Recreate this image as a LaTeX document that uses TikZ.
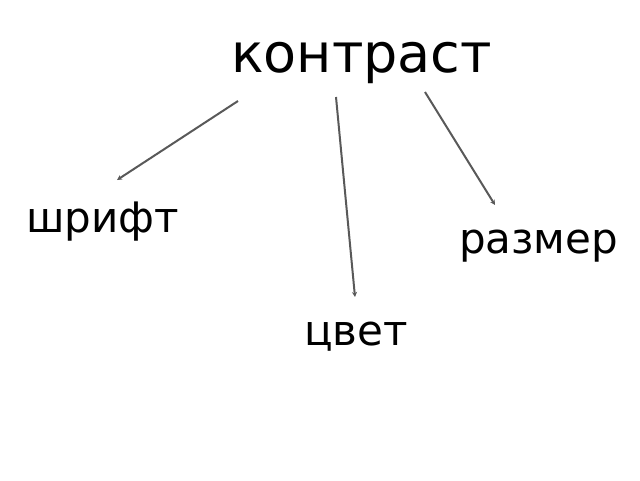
\documentclass[tikz,border=0pt]{standalone}
\usepackage{fontspec}
\setmainfont{DejaVu Sans}
\usetikzlibrary{arrows.meta, positioning}
\tikzset{
  word/.style={inner sep=0pt, anchor=base, font=\fontsize{42}{50}\selectfont},
  link/.style={draw=black!65, line width=2pt, -{Stealth[length=5pt,width=5pt]}},
}

\begin{document}
\begin{tikzpicture}[x=1pt, y=-1pt]
  \useasboundingbox (0,0) rectangle (640,480);
  \node [word, font=\fontsize{54}{64}\selectfont] (kontrast) at (361.5,72) {контраст};
  \node [word] (shrift) at (102.5,232) {шрифт};
  \node [word] (razmer) at (538.5,253) {размер};
  \node [word] (cvet) at (356,345) {цвет};
  \coordinate (s1) at (238,101);
  \coordinate (e1) at (117,180);
  \coordinate (s2) at (336,97);
  \coordinate (e2) at (355,297);
  \coordinate (s3) at (425,92);
  \coordinate (e3) at (495,205);
  \draw [link] (s1) -- (e1);
  \draw [link] (s2) -- (e2);
  \draw [link] (s3) -- (e3);
\end{tikzpicture}
\end{document}
